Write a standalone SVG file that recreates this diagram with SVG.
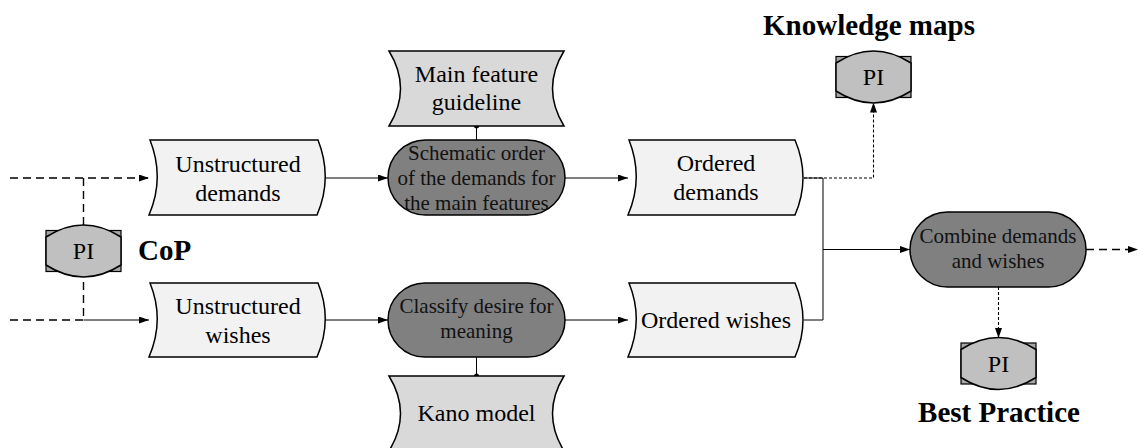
<svg xmlns="http://www.w3.org/2000/svg" width="1138" height="448" viewBox="0 0 1138 448">
  <defs>
    <marker id="arrow" markerWidth="10" markerHeight="7" refX="10" refY="3.5" orient="auto" markerUnits="userSpaceOnUse">
      <path d="M0,0 L10,3.5 L0,7 Z" fill="#000"/>
    </marker>
    <!-- PI badge: grey box behind a lens-shaped cap -->
    <g id="pi-badge">
      <rect x="-37.5" y="-20.5" width="75" height="41" fill="#a6a6a6" stroke="#000" stroke-width="1.2"/>
      <path d="M-37.5,-14 Q0,-38 37.5,-14 L37.5,14 Q0,38 -37.5,14 Z" fill="#c0c0c0" stroke="#000" stroke-width="1.5"/>
      <text x="0" y="8" class="t">PI</text>
    </g>
  </defs>
  <style>
    text { font-family: "Liberation Serif", "Times New Roman", Times, serif; }
    .t { font-size: 24px; font-weight: normal; font-style: normal; fill: #000; text-anchor: middle; }
    .s { font-size: 21px; font-weight: normal; font-style: normal; fill: #111; text-anchor: middle; }
    .b { font-size: 29px; font-weight: bold; fill: #000; }
    .data { fill: #f2f2f2; stroke: #000; stroke-width: 1.5; }
    .res { fill: #d9d9d9; stroke: #000; stroke-width: 1.5; }
    .proc { fill: #808080; stroke: #000; stroke-width: 1.5; }
    .ln { fill: none; stroke: #000; stroke-width: 1; }
    .dash { fill: none; stroke: #000; stroke-width: 1.4; stroke-dasharray: 8 5; }
    .dot { fill: none; stroke: #000; stroke-width: 1.1; stroke-dasharray: 3 2; }
  </style>

  <!-- connectors -->
  <g id="connectors">
    <!-- inputs from the left -->
    <line class="dash" x1="10" y1="178" x2="149" y2="178" marker-end="url(#arrow)"/>
    <line class="dash" x1="10" y1="320" x2="83.5" y2="320"/>
    <line class="ln" x1="83.5" y1="320" x2="149" y2="320" marker-end="url(#arrow)"/>
    <line class="dash" x1="83.5" y1="178" x2="83.5" y2="320"/>
    <!-- upper flow -->
    <line class="ln" x1="325" y1="178" x2="388" y2="178" marker-end="url(#arrow)"/>
    <line class="ln" x1="565" y1="178" x2="628" y2="178" marker-end="url(#arrow)"/>
    <!-- lower flow -->
    <line class="ln" x1="325" y1="320" x2="388" y2="320" marker-end="url(#arrow)"/>
    <line class="ln" x1="565" y1="320" x2="628" y2="320" marker-end="url(#arrow)"/>
    <!-- resources -->
    <line class="ln" x1="476.5" y1="126" x2="476.5" y2="140"/>
    <circle cx="476.5" cy="126" r="2.5" fill="#000"/>
    <line class="ln" x1="476.5" y1="357" x2="476.5" y2="376"/>
    <circle cx="476.5" cy="376" r="2.5" fill="#000"/>
    <!-- merge into combine -->
    <polyline class="ln" points="804,178 823,178 823,320 804,320"/>
    <line class="ln" x1="823" y1="249.5" x2="910" y2="249.5" marker-end="url(#arrow)"/>
    <!-- to knowledge maps -->
    <polyline class="dot" points="804,178 873.5,178 873.5,102.5" marker-end="url(#arrow)"/>
    <!-- to best practice -->
    <line class="dot" x1="998.5" y1="287" x2="998.5" y2="338" marker-end="url(#arrow)"/>
    <!-- output -->
    <line class="dash" x1="1086" y1="249.5" x2="1138" y2="249.5" marker-end="url(#arrow)"/>
  </g>

  <!-- data nodes -->
  <g id="unstructured-demands">
    <path class="data" d="M150,140 L318,140 Q333,178 317,215 L149,215 Q165,178 150,140 Z"/>
    <text class="t" x="238" y="172">Unstructured</text>
    <text class="t" x="238" y="201">demands</text>
  </g>
  <g id="unstructured-wishes">
    <path class="data" d="M150,283 L318,283 Q333,320 317,357 L149,357 Q165,320 150,283 Z"/>
    <text class="t" x="238" y="314">Unstructured</text>
    <text class="t" x="238" y="343">wishes</text>
  </g>
  <g id="ordered-demands">
    <path class="data" d="M629,140 L795,140 Q811,178 795,215 L628,215 Q644,178 629,140 Z"/>
    <text class="t" x="716" y="171">Ordered</text>
    <text class="t" x="716" y="200">demands</text>
  </g>
  <g id="ordered-wishes">
    <path class="data" d="M629,283 L795,283 Q811,320 795,357 L628,357 Q644,320 629,283 Z"/>
    <text class="t" x="716" y="328">Ordered wishes</text>
  </g>

  <!-- resource nodes -->
  <g id="main-feature-guideline">
    <path class="res" d="M389,51 L564,51 Q541,88.5 564,126 L389,126 Q412,88.5 389,51 Z"/>
    <text class="t" x="476.5" y="82">Main feature</text>
    <text class="t" x="476.5" y="110">guideline</text>
  </g>
  <g id="kano-model">
    <path class="res" d="M389,376 L564,376 Q541,413.5 564,451 L389,451 Q412,413.5 389,376 Z"/>
    <text class="t" x="476.5" y="421">Kano model</text>
  </g>

  <!-- process nodes -->
  <g id="schematic-order">
    <rect class="proc" x="388" y="140" width="177" height="75" rx="37.5"/>
    <text class="s" x="476.5" y="160">Schematic order</text>
    <text class="s" x="476.5" y="185">of the demands for</text>
    <text class="s" x="476.5" y="210">the main features</text>
  </g>
  <g id="classify-desire">
    <rect class="proc" x="388" y="283" width="177" height="74" rx="37"/>
    <text class="s" x="476.5" y="313">Classify desire for</text>
    <text class="s" x="476.5" y="338">meaning</text>
  </g>
  <g id="combine">
    <rect class="proc" x="910" y="212" width="176" height="75" rx="37.5"/>
    <text class="s" x="998" y="243">Combine demands</text>
    <text class="s" x="998" y="268">and wishes</text>
  </g>

  <!-- PI badges and their labels -->
  <g id="pi-cop">
    <use href="#pi-badge" x="83.5" y="251"/>
    <text class="b" x="138" y="260">CoP</text>
  </g>
  <g id="pi-knowledge-maps">
    <use href="#pi-badge" x="873.5" y="77"/>
    <text class="b" x="869" y="35" text-anchor="middle">Knowledge maps</text>
  </g>
  <g id="pi-best-practice">
    <use href="#pi-badge" x="998.5" y="363.5"/>
    <text class="b" x="999" y="422" text-anchor="middle">Best Practice</text>
  </g>
</svg>
